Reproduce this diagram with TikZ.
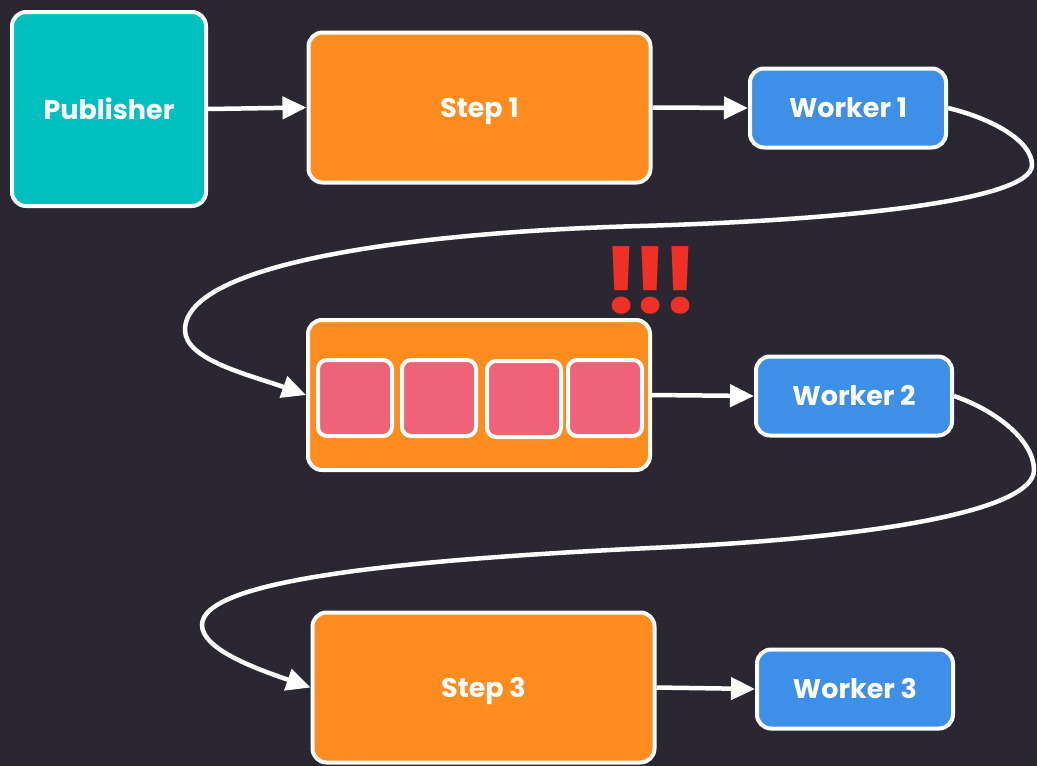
\documentclass[tikz,border=0pt]{standalone}
\usepackage{fontspec}
\setmainfont{Poppins}
\usetikzlibrary{arrows.meta}
\definecolor{bg}{RGB}{42,38,50}
\definecolor{teal}{RGB}{0,191,191}
\definecolor{orng}{RGB}{255,140,30}
\definecolor{blu}{RGB}{61,143,232}
\definecolor{pnk}{RGB}{240,98,120}
\definecolor{alert}{RGB}{240,48,36}
\tikzset{
  boxbase/.style={draw=white, line width=4pt, rounded corners=14pt, text=white, font=\bfseries\fontsize{27}{30}\selectfont, inner sep=0pt},
  pubbox/.style={boxbase, fill=teal, minimum width=194pt, minimum height=194pt},
  stepbox/.style={boxbase, fill=orng, minimum width=342pt, minimum height=150pt, text depth=0pt},
  workbox/.style={boxbase, fill=blu, minimum width=196pt, minimum height=79pt},
  msgbox/.style={draw=white, line width=4pt, rounded corners=9pt, fill=pnk, minimum width=74pt, minimum height=76pt, inner sep=0pt},
  conn/.style={draw=white, line width=4.5pt, -{Triangle[length=24pt,width=22pt]}},
}
\begin{document}
\begin{tikzpicture}[x=1pt,y=-1pt]
\fill[bg] (0,0) rectangle (1037,766);
\useasboundingbox (0,0) rectangle (1037,766);
\node[pubbox] (pub) at (109,109) {Publisher};
\node[stepbox] (s1) at (479.5,107.5) {Step 1};
\node[workbox] (w1) at (848,108) {Worker 1};
\node[stepbox] (s2) at (479,395) {};
\node[msgbox] (m1) at (355,398) {};
\node[msgbox] (m2) at (439,398) {};
\node[msgbox] (m3) at (524,399) {};
\node[msgbox] (m4) at (605,398) {};
\node[text=alert, font=\bfseries\fontsize{92}{92}\selectfont, inner sep=0pt] (bang) at (651,280) {!\kern-7pt!\kern-7pt!};
\node[workbox] (w2) at (854,396) {Worker 2};
\node[stepbox] (s3) at (483.5,687.5) {Step 3};
\node[workbox] (w3) at (855,689) {Worker 3};
\coordinate (c1a) at (1032,165);
\coordinate (c1b) at (640,226);
\coordinate (c1c) at (185,330);
\coordinate (c2a) at (1034,470);
\coordinate (c2b) at (650,548);
\coordinate (c2c) at (202,625);
\draw[conn] (pub.east) -- (s1.west);
\draw[conn] (s1.east) -- (w1.west);
\draw[conn] (s2.east) -- (w2.west);
\draw[conn] (s3.east) -- (w3.west);
\draw[conn] (w1.east) .. controls (990,118) and (1032,140) .. (c1a)
  .. controls (1032,200) and (850,220) .. (c1b)
  .. controls (420,232) and (185,262) .. (c1c)
  .. controls (185,360) and (250,375) .. (s2.west);
\draw[conn] (w2.east) .. controls (995,410) and (1034,440) .. (c2a)
  .. controls (1034,510) and (880,538) .. (c2b)
  .. controls (400,560) and (202,580) .. (c2c)
  .. controls (202,650) and (260,670) .. (s3.west);
\end{tikzpicture}
\end{document}
